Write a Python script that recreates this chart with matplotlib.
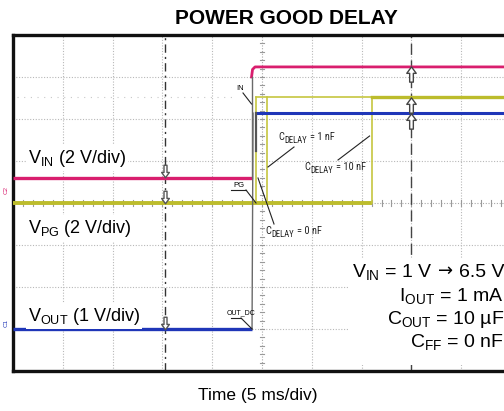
import numpy as np
import matplotlib
matplotlib.use("Agg")
import matplotlib.pyplot as plt
from matplotlib.path import Path
from matplotlib import font_manager

plt.rcParams['font.family'] = ['Liberation Sans', 'DejaVu Sans']
plt.rcParams['mathtext.fontset'] = 'custom'
plt.rcParams['mathtext.rm'] = 'Liberation Sans'
plt.rcParams['mathtext.it'] = 'Liberation Sans:italic'
plt.rcParams['mathtext.bf'] = 'Liberation Sans:bold'

_names = {f.name for f in font_manager.fontManager.ttflist}
NARROW = next((n for n in ['Liberation Sans Narrow', 'DejaVu Sans Condensed',
                           'Roboto Condensed', 'Open Sans Condensed']
               if n in _names), None)

# ---------------- data (time in ms, 5 ms/div; levels in screen divisions) ----
vin_t = [0.0, 23.95, 23.95, 24.05, 24.3, 50.0]
vin_v = [4.60, 4.60, 7.00, 7.18, 7.24, 7.24]

pg_low = 4.0
pg_high = 6.52
cdelay_labels = ["0 nF", "1 nF", "10 nF"]
pg_rise_t = [24.4, 25.5, 36.0]

vout_t = [0.0, 24.0, 24.1, 24.4, 50.0]
vout_v = [1.0, 1.0, 6.14, 6.14, 6.14]

trigger_t = 15.3
cursor_t = 40.0

PINK = "#d91e6e"
YEL = "#bcbc2c"
YEL_THIN = "#c6c640"
BLUE = "#1f36b8"
GRAYL = "#6a6a6a"

W, H = 504, 411
fig = plt.figure(figsize=(W / 100, H / 100), dpi=100)
L, R, T, B = 13, 511, 35, 371
ax = fig.add_axes([L / W, 1 - B / H, (R - L) / W, (B - T) / H])
ax.set_xlim(0, 50)
ax.set_ylim(0, 8)
ax.set_xticks([])
ax.set_yticks([])
for s in ax.spines.values():
    s.set_linewidth(2.4)
    s.set_color("#111111")
renderer = fig.canvas.get_renderer()


def tx(px):
    return (px - L) / ((R - L) / 10) * 5


def vy(py):
    return (B - py) / ((B - T) / 8)


def runs_text(x, y, runs, ha="left", zorder=7):
    """runs: list of (text, kwargs, dy_points, gap_before_points)."""
    objs, widths = [], []
    for txt, kw, dy, gap in runs:
        t = ax.annotate(txt, xy=(x, y), xytext=(0, dy), textcoords="offset points",
                        ha="left", va="baseline", zorder=zorder, **kw)
        w = t.get_window_extent(renderer).width * 72 / fig.dpi
        objs.append(t)
        widths.append(w)
    total = sum(widths) + sum(r[3] for r in runs)
    cum = 0 if ha == "left" else -total
    for (txt, kw, dy, gap), t, w in zip(runs, objs, widths):
        cum += gap
        t.xyann = (cum, dy)
        cum += w
    return objs


# ---------------- grid ------------------------------------------------------
gkw = dict(color="#b8b8b8", lw=0.8, linestyle=(0, (1, 1.5)), zorder=1)
for xv in np.arange(5, 50, 5):
    if xv != 25:
        ax.axvline(xv, **gkw)
for yv in np.arange(1, 8, 1):
    if yv != 4:
        ax.axhline(yv, **gkw)
ax.axvline(25, color="#a8a8a8", lw=0.8, linestyle=(0, (1, 1.5)), zorder=1)
ax.axhline(4, color="#a8a8a8", lw=0.8, linestyle=(0, (1, 1.5)), zorder=1)
for xv in np.arange(0, 50.01, 1):
    ax.plot([xv, xv], [3.93, 4.07], color="#9a9a9a", lw=0.8, zorder=1)
for yv in np.arange(0, 8.01, 0.2):
    ax.plot([24.8, 25.2], [yv, yv], color="#9a9a9a", lw=0.8, zorder=1)
ax.plot([0.4, 22.5], [pg_high, pg_high], color="#c8c8c8", lw=0.8,
        linestyle=(0, (1, 5)), zorder=1)

ax.axvline(trigger_t, color="#333333", lw=1.0, linestyle=(0, (6, 3, 1.5, 3)), zorder=2)
ax.axvline(cursor_t, color="#444444", lw=1.0, linestyle=(0, (8, 4)), zorder=2)

# ---------------- traces ----------------------------------------------------
ax.plot(vin_t[:2], vin_v[:2], color=PINK, lw=2.4, zorder=4, solid_capstyle="butt")
ax.plot(vin_t[2:], vin_v[2:], color=PINK, lw=2.0, zorder=4)
ax.plot(vin_t[1:3], vin_v[1:3], color=GRAYL, lw=1.0, zorder=4)

ax.plot([0, max(pg_rise_t)], [pg_low, pg_low], color=YEL, lw=2.8, zorder=4,
        solid_capstyle="butt")
for tr in pg_rise_t:
    ax.plot([tr, tr], [pg_low, pg_high], color=YEL_THIN, lw=1.2, zorder=4)
ax.plot([min(pg_rise_t), max(pg_rise_t)], [pg_high, pg_high], color=YEL_THIN,
        lw=1.2, zorder=4)
ax.plot([max(pg_rise_t), 50], [pg_high, pg_high], color=YEL, lw=2.4, zorder=4)

ax.plot(vout_t[:2], vout_v[:2], color=BLUE, lw=2.4, zorder=4, solid_capstyle="butt")
ax.plot(vout_t[1:3], vout_v[1:3], color=GRAYL, lw=1.0, zorder=4)
ax.plot(vout_t[3:], vout_v[3:], color=BLUE, lw=2.2, zorder=4)
ax.plot([vout_t[3] - 0.05, vout_t[3] - 0.05], [vout_v[3], vout_v[3] - 0.9],
        color="#555555", lw=1.6, zorder=4)

# ---------------- level markers (hollow arrows) -----------------------------
up_verts = [(0, 1), (0.62, 0.15), (0.24, 0.15), (0.24, -1), (-0.24, -1),
            (-0.24, 0.15), (-0.62, 0.15), (0, 1)]
codes = [Path.MOVETO] + [Path.LINETO] * 6 + [Path.CLOSEPOLY]
up_path = Path(up_verts, codes)
dn_path = Path([(x, -y) for x, y in up_verts], codes)
for lvl in [vin_v[-1], pg_high, vout_v[-1]]:
    ax.plot([cursor_t], [lvl - 0.18], marker=up_path, markersize=11,
            mfc="white", mec="#444444", mew=1.0, zorder=6)
for lvl in [vin_v[0], pg_low, vout_v[0]]:
    ax.plot([trigger_t], [lvl + 0.15], marker=dn_path, markersize=9,
            mfc="white", mec="#555555", mew=1.0, zorder=6)

# ---------------- channel labels -------------------------------------------
lbl_kw = dict(fontsize=13, ha="left", va="center", zorder=7,
              bbox=dict(facecolor="white", edgecolor="none", pad=1.5))
ax.text(tx(28), vy(158), r"V$_{\rm IN}$ (2 V/div)", **lbl_kw)
ax.text(tx(28), vy(228), r"V$_{\rm PG}$ (2 V/div)", **lbl_kw)
ax.text(tx(28), vy(316), r"V$_{\rm OUT}$ (1 V/div)", **lbl_kw)

fig.text(6 / W, 1 - 190 / H, "C2", fontsize=4.5, color=PINK, rotation=90,
         ha="center", va="center")
fig.text(6 / W, 1 - 323 / H, "C1", fontsize=4.5, color=BLUE, rotation=90,
         ha="center", va="center")

# ---------------- small scope tags -----------------------------------------
ax.text(tx(240), vy(88), "IN", fontsize=5.5, ha="center", va="center", zorder=7)
ax.plot([tx(243), vin_t[1]], [vy(93), vy(104)], color="#222222", lw=0.8, zorder=7)
ax.text(tx(239), vy(185), "PG", fontsize=5.5, ha="center", va="center", zorder=7)
ax.plot([tx(231), tx(246)], [vy(190), vy(190)], color="#222222", lw=0.8, zorder=7)
ax.plot([tx(246), pg_rise_t[0]], [vy(190), pg_low], color="#222222", lw=0.8, zorder=7)
ax.text(tx(241), vy(313), "OUT_DC", fontsize=5.0, ha="center", va="center", zorder=7)
ax.plot([tx(231), tx(241)], [vy(318), vy(318)], color="#222222", lw=0.8, zorder=7)
ax.plot([tx(241), vout_t[1]], [vy(318), vout_v[1]], color="#222222", lw=0.8, zorder=7)

# ---------------- C_DELAY annotations --------------------------------------
if NARROW:
    nk = dict(fontsize=7.5, family=[NARROW, 'Liberation Sans'], color="#222222")
    sk = dict(fontsize=6.2, family=[NARROW, 'Liberation Sans'], color="#222222")
else:
    nk = dict(fontsize=6.5, color="#222222")
    sk = dict(fontsize=5.2, color="#222222")


def cdelay(px, py, val):
    runs_text(tx(px), vy(py), [("C", nk, 0, 0), ("DELAY", sk, -2.0, 0.3),
                               ("= " + val, nk, 0, 2.0)])


cdelay(278, 140, cdelay_labels[1])
ax.plot([tx(294), pg_rise_t[1] + 0.1], [vy(147), vy(167)], color="#222222", lw=0.8, zorder=7)
cdelay(304, 170, cdelay_labels[2])
ax.plot([tx(338), pg_rise_t[2] - 0.2], [vy(160), vy(136)], color="#222222", lw=0.8, zorder=7)
cdelay(265, 234, cdelay_labels[0])
ax.plot([tx(274), tx(258)], [vy(224), vy(178)], color="#222222", lw=0.8, zorder=7)

# ---------------- conditions block -----------------------------------------
ax.fill_between([tx(348), 50], [vy(365)] * 2, [vy(258)] * 2, color="white",
                zorder=5, lw=0)
xr = tx(504)
big = dict(fontsize=14)
runs_text(xr, vy(277), [(r"V$_{\rm IN}$ = 1 V", big, 0, 0),
                        ("\u2192", dict(fontsize=13, family=['DejaVu Sans']), 0.5, 3.8),
                        ("6.5 V", big, 0, 3.8)], ha="right")
ckw2 = dict(fontsize=14, ha="right", va="baseline", zorder=7)
ax.text(xr, vy(301), r"I$_{\rm OUT}$ = 1 mA", **ckw2)
ax.text(xr, vy(324), r"C$_{\rm OUT}$ = 10 µF", **ckw2)
ax.text(xr, vy(347), r"C$_{\rm FF}$ = 0 nF", **ckw2)

# ---------------- title & axis label ---------------------------------------
fig.text(286 / W, 1 - 18 / H, "POWER GOOD DELAY", fontsize=15, fontweight="bold",
         ha="center", va="center")
fig.text(258 / W, 1 - 395 / H, "Time (5 ms/div)", fontsize=12.5,
         ha="center", va="center")

fig.savefig("out.png", dpi=100)
